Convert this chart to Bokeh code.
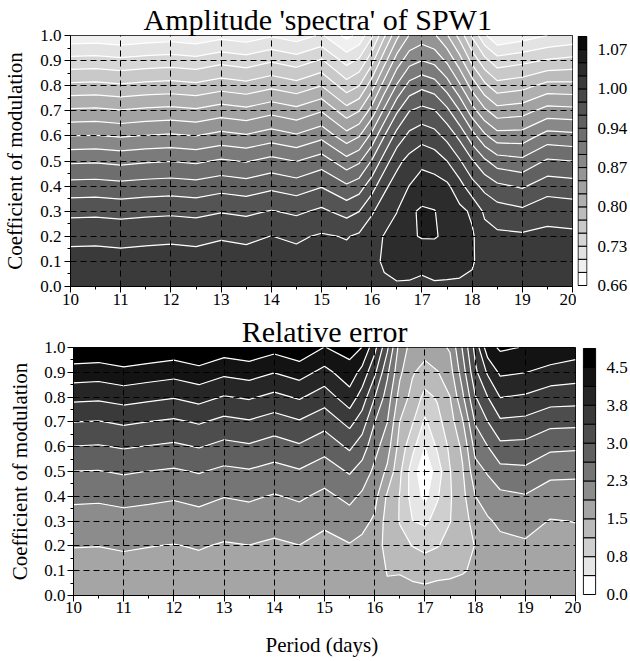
import numpy as np
from bokeh.plotting import figure
from bokeh.layouts import column, row
from bokeh.models import (Range1d, FixedTicker, LinearAxis,
                          CustomJSTickFormatter, PrintfTickFormatter)
from bokeh.embed import file_html
from bokeh.resources import INLINE

FONT = "Liberation Serif"

# ---------------- data ----------------
period = [10.0, 10.5, 11.0, 11.5, 12.0, 12.5, 13.0, 13.5, 14.0, 14.5, 15.0,
          15.5, 15.75, 16.0, 16.25, 16.5, 16.75, 17.0, 17.25, 17.5, 17.75,
          18.0, 18.25, 18.5, 19.0, 19.5, 20.0]
modulation = [0.0, 0.1, 0.2, 0.3, 0.4, 0.5, 0.6, 0.7, 0.8, 0.9, 1.0]

# amplitude 'spectra' of SPW1: one list per period, values for modulation 0.0 .. 1.0
amplitude = [
    [1.0131, 1.0085, 0.9969, 0.9723, 0.9420, 0.9067, 0.8650, 0.8233, 0.7791, 0.7361, 0.6905],  # 10
    [1.0131, 1.0087, 0.9973, 0.9732, 0.9429, 0.9078, 0.8661, 0.8247, 0.7805, 0.7374, 0.6919],  # 10.5
    [1.0131, 1.0080, 0.9960, 0.9709, 0.9404, 0.9046, 0.8630, 0.8210, 0.7769, 0.7338, 0.6882],  # 11
    [1.0131, 1.0087, 0.9973, 0.9732, 0.9429, 0.9078, 0.8661, 0.8247, 0.7805, 0.7374, 0.6919],  # 11.5
    [1.0131, 1.0092, 0.9983, 0.9746, 0.9445, 0.9099, 0.8682, 0.8267, 0.7825, 0.7397, 0.6942],  # 12
    [1.0131, 1.0085, 0.9969, 0.9723, 0.9420, 0.9067, 0.8650, 0.8233, 0.7791, 0.7361, 0.6905],  # 12.5
    [1.0135, 1.0099, 1.0001, 0.9773, 0.9477, 0.9137, 0.8723, 0.8311, 0.7869, 0.7441, 0.6987],  # 13
    [1.0131, 1.0090, 0.9980, 0.9739, 0.9438, 0.9090, 0.8675, 0.8258, 0.7816, 0.7388, 0.6933],  # 13.5
    [1.0137, 1.0108, 1.0019, 0.9800, 0.9509, 0.9176, 0.8764, 0.8354, 0.7912, 0.7486, 0.7033],  # 14
    [1.0131, 1.0092, 0.9983, 0.9746, 0.9445, 0.9099, 0.8682, 0.8267, 0.7825, 0.7397, 0.6942],  # 14.5
    [1.0142, 1.0117, 1.0042, 0.9832, 0.9547, 0.9222, 0.8814, 0.8406, 0.7964, 0.7538, 0.7087],  # 15
    [1.0142, 1.0096, 1.0003, 0.9707, 0.9368, 0.8960, 0.8513, 0.8058, 0.7614, 0.7201, 0.6759],  # 15.5
    [1.0153, 1.0131, 1.0053, 0.9784, 0.9456, 0.9067, 0.8636, 0.8185, 0.7734, 0.7324, 0.6896],  # 15.75
    [1.0165, 1.0188, 1.0153, 0.9987, 0.9686, 0.9347, 0.8939, 0.8511, 0.8092, 0.7657, 0.7242],  # 16
    [1.0210, 1.0272, 1.0256, 1.0133, 0.9969, 0.9664, 0.9327, 0.8921, 0.8522, 0.8112, 0.7700],  # 16.25
    [1.0222, 1.0324, 1.0313, 1.0240, 1.0117, 0.9951, 0.9645, 0.9299, 0.8898, 0.8527, 0.8133],  # 16.5
    [1.0210, 1.0347, 1.0440, 1.0440, 1.0249, 1.0090, 0.9848, 0.9554, 0.9183, 0.8789, 0.8434],  # 16.75
    [1.0199, 1.0300, 1.0490, 1.0500, 1.0358, 1.0185, 0.9928, 0.9627, 0.9279, 0.8878, 0.8529],  # 17
    [1.0210, 1.0358, 1.0486, 1.0480, 1.0336, 1.0142, 0.9869, 0.9575, 0.9210, 0.8812, 0.8454],  # 17.25
    [1.0210, 1.0336, 1.0438, 1.0381, 1.0290, 1.0017, 0.9718, 0.9393, 0.8994, 0.8609, 0.8217],  # 17.5
    [1.0210, 1.0313, 1.0358, 1.0301, 1.0103, 0.9814, 0.9502, 0.9112, 0.8689, 0.8290, 0.7887],  # 17.75
    [1.0199, 1.0267, 1.0272, 1.0210, 0.9873, 0.9584, 0.9199, 0.8750, 0.8327, 0.7898, 0.7477],  # 18
    [1.0176, 1.0153, 1.0108, 0.9973, 0.9721, 0.9372, 0.8921, 0.8470, 0.8024, 0.7584, 0.7094],  # 18.25
    [1.0153, 1.0119, 1.0062, 0.9891, 0.9609, 0.9219, 0.8746, 0.8286, 0.7830, 0.7379, 0.6855],  # 18.5
    [1.0131, 1.0096, 1.0051, 0.9834, 0.9532, 0.9163, 0.8750, 0.8331, 0.7887, 0.7447, 0.6944],  # 19
    [1.0131, 1.0101, 1.0074, 0.9930, 0.9689, 0.9365, 0.8969, 0.8513, 0.8046, 0.7534, 0.7056],  # 19.5
    [1.0131, 1.0096, 1.0062, 0.9907, 0.9661, 0.9333, 0.8939, 0.8491, 0.8035, 0.7579, 0.7124],  # 20
]

# relative error: one list per period, values for modulation 0.0 .. 1.0
rel_error = [
    [1.650, 1.744, 1.886, 2.096, 2.329, 2.618, 2.989, 3.379, 3.844, 4.331, 4.826],  # 10
    [1.646, 1.736, 1.879, 2.085, 2.314, 2.610, 2.970, 3.356, 3.821, 4.305, 4.800],  # 10.5
    [1.661, 1.759, 1.909, 2.123, 2.359, 2.666, 3.034, 3.431, 3.900, 4.391, 4.886],  # 11
    [1.650, 1.740, 1.883, 2.093, 2.325, 2.618, 2.981, 3.371, 3.833, 4.320, 4.815],  # 11.5
    [1.635, 1.725, 1.860, 2.063, 2.288, 2.576, 2.933, 3.315, 3.773, 4.256, 4.751],  # 12
    [1.658, 1.755, 1.901, 2.115, 2.351, 2.651, 3.019, 3.413, 3.881, 4.369, 4.868],  # 12.5
    [1.628, 1.714, 1.841, 2.040, 2.261, 2.543, 2.895, 3.270, 3.724, 4.208, 4.703],  # 13
    [1.639, 1.733, 1.868, 2.074, 2.303, 2.591, 2.951, 3.338, 3.795, 4.283, 4.778],  # 13.5
    [1.613, 1.695, 1.815, 2.006, 2.224, 2.494, 2.839, 3.206, 3.653, 4.136, 4.628],  # 14
    [1.639, 1.733, 1.868, 2.074, 2.303, 2.591, 2.951, 3.338, 3.795, 4.283, 4.778],  # 14.5
    [1.613, 1.688, 1.744, 1.950, 2.164, 2.430, 2.756, 3.139, 3.551, 4.009, 4.489],  # 15
    [1.669, 1.763, 1.849, 2.081, 2.344, 2.663, 3.064, 3.491, 3.975, 4.343, 4.650],  # 15.5
    [1.631, 1.688, 1.781, 1.980, 2.186, 2.468, 2.813, 3.188, 3.585, 4.001, 4.493],  # 15.75
    [1.575, 1.613, 1.669, 1.819, 1.995, 2.164, 2.374, 2.633, 3.008, 3.450, 3.863],  # 16
    [1.538, 1.489, 1.388, 1.350, 1.444, 1.800, 2.040, 2.258, 2.456, 2.700, 3.075],  # 16.25
    [1.556, 1.489, 1.238, 1.106, 1.106, 1.200, 1.350, 1.493, 1.725, 1.950, 2.100],  # 16.5
    [1.575, 1.444, 1.118, 0.758, 0.600, 0.563, 0.863, 1.163, 1.388, 1.538, 1.725],  # 16.75
    [1.594, 1.388, 1.016, 0.679, 0.281, 0.075, 0.383, 0.686, 1.016, 1.361, 1.650],  # 17
    [1.613, 1.425, 1.106, 0.881, 0.713, 0.563, 0.806, 1.013, 1.163, 1.481, 1.763],  # 17.25
    [1.613, 1.444, 1.238, 1.114, 1.088, 1.106, 1.200, 1.331, 1.493, 1.725, 1.913],  # 17.5
    [1.613, 1.481, 1.388, 1.350, 1.388, 1.463, 1.575, 1.838, 2.175, 2.438, 2.663],  # 17.75
    [1.613, 1.538, 1.508, 1.631, 1.868, 2.111, 2.366, 2.655, 2.970, 3.281, 3.488],  # 18
    [1.613, 1.631, 1.725, 1.830, 2.051, 2.284, 2.618, 2.993, 3.368, 3.803, 4.350],  # 18.25
    [1.631, 1.688, 1.781, 1.943, 2.160, 2.501, 2.903, 3.311, 3.758, 4.193, 4.556],  # 18.5
    [1.650, 1.725, 1.819, 2.014, 2.224, 2.539, 2.888, 3.274, 3.698, 4.133, 4.481],  # 19
    [1.631, 1.688, 1.763, 1.856, 2.081, 2.340, 2.704, 3.109, 3.551, 3.994, 4.425],  # 19.5
    [1.631, 1.688, 1.770, 1.883, 2.089, 2.321, 2.681, 3.094, 3.529, 3.926, 4.313],  # 20
]

amp_tick_labels = ["0.66", "0.73", "0.80", "0.87", "0.94", "1.00", "1.07"]
err_tick_labels = ["0.0", "0.8", "1.5", "2.3", "3.0", "3.8", "4.5"]

# contour levels (colour scale)
amp_step = (1.07 - 0.66) / 18
amp_levels = [0.66 + k * amp_step for k in range(20)]
err_levels = [0.375 * k for k in range(14)]

amp_grays = [255, 240, 227, 214, 201, 188, 175, 162, 149, 136,
             123, 110, 97, 84, 71, 58, 44, 30, 10]
err_grays = [255, 230, 207, 186, 165, 140, 117, 96, 77, 58, 38, 19, 0]


def hexgray(g):
    return "#%02x%02x%02x" % (g, g, g)


def style_axis(ax, tick_out, standoff):
    ax.axis_line_color = "black"
    ax.axis_line_width = 1
    ax.major_tick_line_color = "black"
    ax.minor_tick_line_color = "black"
    ax.major_tick_out = tick_out
    ax.major_tick_in = 0
    ax.minor_tick_out = 3
    ax.minor_tick_in = 0
    ax.major_label_standoff = standoff
    ax.major_label_text_font = FONT
    ax.major_label_text_font_size = "17px"
    ax.major_label_text_color = "black"
    ax.axis_label_text_font = FONT
    ax.axis_label_text_font_size = "21px"
    ax.axis_label_text_font_style = "normal"
    ax.axis_label_text_color = "black"


def main_chart(zcols, levels, grays, title, title_dx, W, H, bl, br, bt, bb, xlabel,
               x_std, y_std, ylab_std, xlab_std):
    z = np.array(zcols).T  # shape (len(modulation), len(period))
    colors = [hexgray(g) for g in grays]
    p = figure(width=W, height=H, title=title,
               x_range=Range1d(10, 20), y_range=Range1d(0, 1),
               output_backend="svg", toolbar_location=None,
               min_border_left=bl, min_border_right=br,
               min_border_top=bt, min_border_bottom=bb)
    p.background_fill_color = "white"
    p.border_fill_color = "white"
    p.title.text_font = FONT
    p.title.text_font_size = "30px"
    p.title.text_font_style = "normal"
    p.title.text_color = "black"
    p.title.align = "center"
    p.title.standoff = 0
    p.title.offset = title_dx

    fill_levels = list(levels)
    fill_levels[0] = min(levels[0], float(z.min()) - 0.01)
    fill_levels[-1] = max(levels[-1], float(z.max()) + 0.01)
    p.contour(x=period, y=modulation, z=z, levels=fill_levels,
              fill_color=colors, line_color=None)
    p.contour(x=period, y=modulation, z=z, levels=list(levels[1:-1]),
              fill_color=None, line_color="white", line_width=1.2)

    p.xaxis.ticker = FixedTicker(ticks=list(range(10, 21)),
                                 minor_ticks=[10.5 + i for i in range(10)])
    p.yaxis.ticker = FixedTicker(ticks=[i / 10 for i in range(11)],
                                 minor_ticks=[0.05 + i / 10 for i in range(10)])
    p.yaxis.formatter = PrintfTickFormatter(format="%.1f")
    p.xgrid.ticker = FixedTicker(ticks=list(range(10, 21)))
    p.ygrid.ticker = FixedTicker(ticks=[i / 10 for i in range(11)])
    p.grid.grid_line_color = "black"
    p.grid.grid_line_dash = "6 4"
    p.grid.grid_line_width = 1
    p.grid.level = "annotation"

    for ax in p.xaxis:
        style_axis(ax, 6, x_std)
    for ax in p.yaxis:
        style_axis(ax, 6, y_std)
    p.yaxis.axis_label = "Coefficient of modulation"
    p.yaxis.axis_label_standoff = ylab_std
    if xlabel:
        p.xaxis.axis_label = xlabel
        p.xaxis.axis_label_standoff = xlab_std

    p.outline_line_color = "black"
    p.outline_line_width = 1
    return p


def color_bar(levels, grays, labels, step, W, H, bt, bb, bar_w, std):
    colors = [hexgray(g) for g in grays]
    frame_h = H - bt - bb
    pad = (levels[-1] - levels[0]) / (frame_h - 2)
    cb = figure(width=W, height=H, title=None,
                x_range=Range1d(-1.0 / bar_w, 1 + 1.0 / bar_w),
                y_range=Range1d(levels[0] - pad, levels[-1] + pad),
                output_backend="svg", toolbar_location=None,
                x_axis_location=None, y_axis_location=None,
                min_border_left=1, min_border_right=W - (bar_w + 3),
                min_border_top=bt, min_border_bottom=bb)
    cb.background_fill_color = "white"
    cb.border_fill_color = "white"
    cb.outline_line_color = None
    cb.grid.visible = False
    cb.quad(left=0, right=1, bottom=levels[:-1], top=levels[1:],
            fill_color=colors, line_color="black", line_width=1)
    ax = LinearAxis(ticker=FixedTicker(ticks=levels[::step]),
                    formatter=CustomJSTickFormatter(args=dict(labels=labels),
                                                    code="return labels[index];"))
    ax.axis_line_color = None
    ax.major_tick_line_color = None
    ax.minor_tick_line_color = None
    ax.major_label_standoff = std
    ax.major_label_text_font = FONT
    ax.major_label_text_font_size = "17px"
    ax.major_label_text_color = "black"
    cb.add_layout(ax, "right")
    return cb


p1 = main_chart(amplitude, amp_levels, amp_grays, "Amplitude 'spectra' of  SPW1", -4,
                576, 312, 68, 4, 34, 26, None, 1, 3, 10, 0)
c1 = color_bar(amp_levels, amp_grays, amp_tick_labels, 3, 54, 312, 33, 25, 17, 4)

p2 = main_chart(rel_error, err_levels, err_grays, "Relative error", 10,
                581, 347, 73, 6, 34, 62, "Period  (days)", 0, 2, 9, 17)
c2 = color_bar(err_levels, err_grays, err_tick_labels, 2, 49, 347, 33, 61, 15, 4)

layout = column(row(p1, c1), row(p2, c2))

with open("out.html", "w") as f:
    f.write(file_html(layout, INLINE))
